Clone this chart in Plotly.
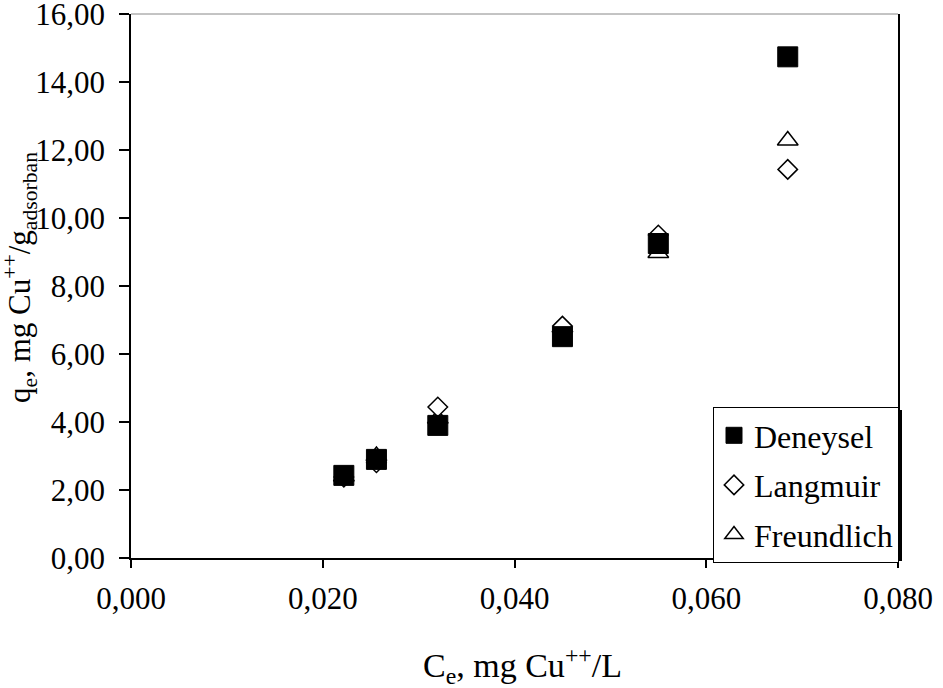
import plotly.graph_objects as go

ce = [0.0222, 0.0256, 0.0320, 0.0450, 0.0550, 0.0685]
q_deneysel = [2.43, 2.90, 3.90, 6.51, 9.25, 14.74]
q_langmuir = [2.38, 2.80, 4.44, 6.82, 9.50, 11.43]
q_freundlich = [2.40, 3.00, 4.10, 6.78, 8.97, 12.28]

names = ["Deneysel", "Langmuir", "Freundlich"]
x_ticks = [0.0, 0.02, 0.04, 0.06, 0.08]
y_ticks = [0, 2, 4, 6, 8, 10, 12, 14, 16]

FONT = "Liberation Serif, Times New Roman, serif"

W, H = 943, 688
L, R, T, B = 131, 45, 14, 130
PW, PH = W - L - R, H - T - B

def px_x(p):
    return (p - L) / PW

def px_y(p):
    return (H - B - p) / PH

fig = go.Figure()
fig.add_trace(go.Scatter(
    x=ce, y=q_freundlich, mode="markers", name=names[2], legendgroup="c", legendrank=3,
    marker=dict(symbol="triangle-up", size=18, color="white", line=dict(color="black", width=1.5)),
))
fig.add_trace(go.Scatter(
    x=ce, y=q_langmuir, mode="markers", name=names[1], legendgroup="b", legendrank=2,
    marker=dict(symbol="diamond", size=15, color="white", line=dict(color="black", width=1.5)),
))
fig.add_trace(go.Scatter(
    x=ce, y=q_deneysel, mode="markers", name=names[0], legendgroup="a", legendrank=1,
    marker=dict(symbol="square", size=20, color="black", line=dict(color="black", width=1)),
))

fig.update_layout(
    width=W, height=H,
    margin=dict(l=L, r=R, t=T, b=B, autoexpand=False),
    paper_bgcolor="white", plot_bgcolor="white",
    separators=",.",
    font=dict(family=FONT, size=31, color="black"),
    showlegend=True,
    legend=dict(
        x=px_x(713), y=px_y(407), xanchor="left", yanchor="top",
        bgcolor="white", bordercolor="black", borderwidth=1,
        font=dict(family=FONT, size=32, color="black"),
        tracegroupgap=5, traceorder="grouped",
    ),
    xaxis=dict(
        range=[0, 0.08], tickvals=x_ticks, tickformat=".3f", automargin=False,
        showgrid=False, zeroline=False, showline=True, linecolor="black", linewidth=1.5,
        ticks="outside", ticklen=8, tickcolor="black", tickwidth=1.5,
        ticklabelstandoff=4, ticklabeloverflow="allow",
    ),
    yaxis=dict(
        range=[0, 16], tickvals=y_ticks, tickformat=".2f", automargin=False,
        showgrid=False, zeroline=False, showline=True, linecolor="black", linewidth=1.5,
        mirror=True,
        ticks="outside", ticklen=10, tickcolor="black", tickwidth=1.5,
        ticklabelstandoff=8, ticklabeloverflow="allow",
    ),
    shapes=[
        dict(type="line", xref="paper", yref="paper", x0=0, x1=1, y0=1, y1=1,
             line=dict(color="#888888", width=1)),
        dict(type="rect", xref="paper", yref="paper",
             x0=px_x(716), x1=px_x(902), y0=px_y(561), y1=px_y(410),
             fillcolor="black", line=dict(width=0), layer="above"),
    ],
    annotations=[
        dict(text="C<sub>e</sub>, mg Cu<sup>++</sup>/L", xref="paper", yref="paper",
             x=px_x(522), y=0, xanchor="center", yanchor="middle", yshift=-(665 - 558),
             showarrow=False, font=dict(family=FONT, size=34, color="black")),
        dict(text="q<sub>e</sub>, mg Cu<sup>++</sup>/g<sub>adsorban</sub>", xref="paper", yref="paper",
             x=0, y=0.5, xanchor="center", yanchor="middle", xshift=-(L - 20), yshift=8,
             textangle=-90, showarrow=False, font=dict(family=FONT, size=31, color="black")),
    ],
)

fig.write_html(
    "out.html",
    config=dict(displayModeBar=False),
    post_script="document.body.style.margin='0';document.body.style.overflow='hidden';",
)
